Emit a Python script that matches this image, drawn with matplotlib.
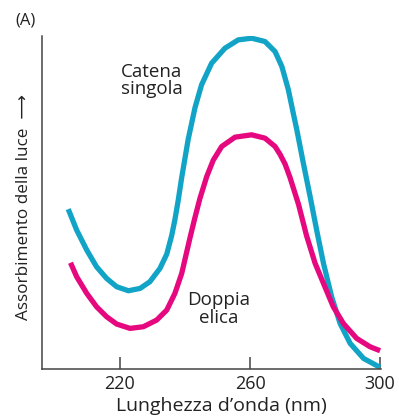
import numpy as np
import matplotlib.pyplot as plt

plt.rcParams['font.family'] = ['Open Sans', 'DejaVu Sans']

# wavelength (nm) / relative absorbance
wl_single = [204.1, 206.7, 209.8, 212.8, 215.9, 219.0, 222.6, 226.2, 229.2, 232.3,
             234.4, 235.9, 236.9, 237.9, 239.0, 241.0, 243.1, 245.1, 248.2, 252.3,
             256.4, 260.5, 264.6, 267.7, 269.8, 271.8, 273.3, 274.4, 276.4, 278.5,
             280.5, 282.6, 285.1, 287.7, 290.8, 294.9, 300.0]
abs_single = [0.480, 0.417, 0.357, 0.307, 0.272, 0.247, 0.235, 0.242, 0.262, 0.302,
              0.345, 0.400, 0.448, 0.505, 0.575, 0.690, 0.785, 0.853, 0.918, 0.963,
              0.988, 0.993, 0.983, 0.953, 0.908, 0.838, 0.768, 0.718, 0.618, 0.517,
              0.417, 0.317, 0.217, 0.137, 0.077, 0.032, 0.005]

wl_double = [204.8, 206.7, 209.8, 212.8, 215.9, 219.0, 223.1, 227.2, 231.3, 234.4,
             236.9, 239.0, 240.5, 241.5, 243.0, 244.6, 246.7, 248.7, 251.3, 255.4,
             260.5, 264.6, 267.7, 269.2, 270.8, 272.3, 274.9, 277.4, 280.0, 282.6,
             285.6, 288.7, 292.8, 296.9, 300.0]
abs_double = [0.319, 0.277, 0.227, 0.187, 0.157, 0.135, 0.122, 0.127, 0.147, 0.177,
              0.227, 0.287, 0.350, 0.392, 0.452, 0.512, 0.578, 0.627, 0.668, 0.696,
              0.703, 0.693, 0.668, 0.645, 0.615, 0.575, 0.495, 0.400, 0.318, 0.257,
              0.187, 0.137, 0.092, 0.067, 0.055]

xticks = [220, 260, 300]

fig = plt.figure(figsize=(3.99, 4.17), dpi=100)
ax = fig.add_axes([0.105, 0.115, 0.850, 0.799])

ax.plot(wl_single, abs_single, color='#12a4c6', lw=3.8, solid_capstyle='butt', solid_joinstyle='round')
ax.plot(wl_double, abs_double, color='#e6087f', lw=3.8, solid_capstyle='butt', solid_joinstyle='round')

ax.set_xlim(196, 300.3)
ax.set_ylim(0, 1)

for s in ['top', 'right']:
    ax.spines[s].set_visible(False)
for s in ['left', 'bottom']:
    ax.spines[s].set_color('#444444')
    ax.spines[s].set_linewidth(1.1)

ax.set_xticks(xticks)
ax.set_xticklabels([str(t) for t in xticks], fontsize=13, color='#222222')
ax.tick_params(axis='x', direction='in', length=9, width=1.1, color='#444444', pad=4)
ax.set_yticks([])

ax.set_xlabel('Lunghezza d\u2019onda (nm)', fontsize=14, color='#222222', labelpad=3, x=0.528)
ax.set_ylabel('Assorbimento della luce  \u27f6', fontsize=12.3, color='#222222', labelpad=7, y=0.485)

ax.text(229.8, 0.865, 'Catena\nsingola', fontsize=13.5, ha='center', va='center',
        color='#222222', linespacing=0.95)
ax.text(250.5, 0.18, 'Doppia\nelica', fontsize=13.5, ha='center', va='center',
        color='#222222', linespacing=0.95)

fig.text(0.065, 0.952, '(A)', fontsize=12, ha='center', va='center', color='#222222')

fig.savefig('out.png', dpi=100)
